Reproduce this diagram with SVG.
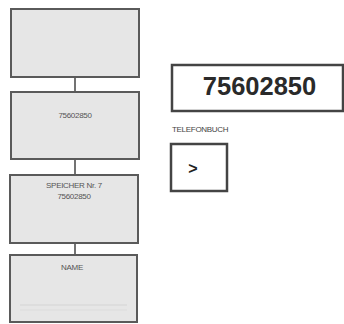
<svg xmlns="http://www.w3.org/2000/svg" width="344" height="324" viewBox="0 0 344 324">
<style>
.scr{fill:#e6e6e6;stroke:#5a5a5a;stroke-width:2}
.sm{font-family:"Liberation Sans",Arial,sans-serif;font-size:8px;fill:#555;text-anchor:middle;letter-spacing:-0.3px}
.con{stroke:#444;stroke-width:1.5;fill:none}
</style>
<rect width="344" height="324" fill="#fff"/>
<g id="connectors">
<line class="con" x1="75" y1="77" x2="75" y2="91"/>
<line class="con" x1="75" y1="159" x2="75" y2="175"/>
<line class="con" x1="75" y1="243" x2="75" y2="255"/>
</g>
<g id="screen1"><rect class="scr" x="11" y="9" width="128" height="68"/></g>
<g id="screen2"><rect class="scr" x="11" y="92" width="128" height="67"/>
<text class="sm" x="75" y="118">75602850</text></g>
<g id="screen3"><rect class="scr" x="10" y="175" width="128" height="68"/>
<text class="sm" x="74" y="188">SPEICHER Nr. 7</text>
<text class="sm" x="74" y="199">75602850</text></g>
<g id="screen4"><rect class="scr" x="10" y="255" width="127" height="67"/>
<text class="sm" x="72" y="270">NAME</text>
<line x1="20" y1="305" x2="127" y2="305" stroke="#d4d4d4" stroke-width="1"/>
<line x1="20" y1="310" x2="127" y2="310" stroke="#dcdcdc" stroke-width="1"/></g>
<g id="display"><rect x="172" y="65" width="171" height="46" fill="#fff" stroke="#444" stroke-width="2.5"/>
<text x="259.5" y="95" font-family="Liberation Sans,Arial,sans-serif" font-weight="bold" font-size="25.5" fill="#2a2a2a" text-anchor="middle">75602850</text></g>
<g id="label"><text x="172" y="132" font-family="Liberation Sans,Arial,sans-serif" font-size="8" fill="#444" letter-spacing="-0.3">TELEFONBUCH</text></g>
<g id="button"><rect x="171" y="144" width="56" height="47" fill="#fff" stroke="#444" stroke-width="2.5"/>
<text x="193" y="174" font-family="Liberation Sans,Arial,sans-serif" font-weight="bold" font-size="16" fill="#222" text-anchor="middle">&gt;</text></g>
</svg>
